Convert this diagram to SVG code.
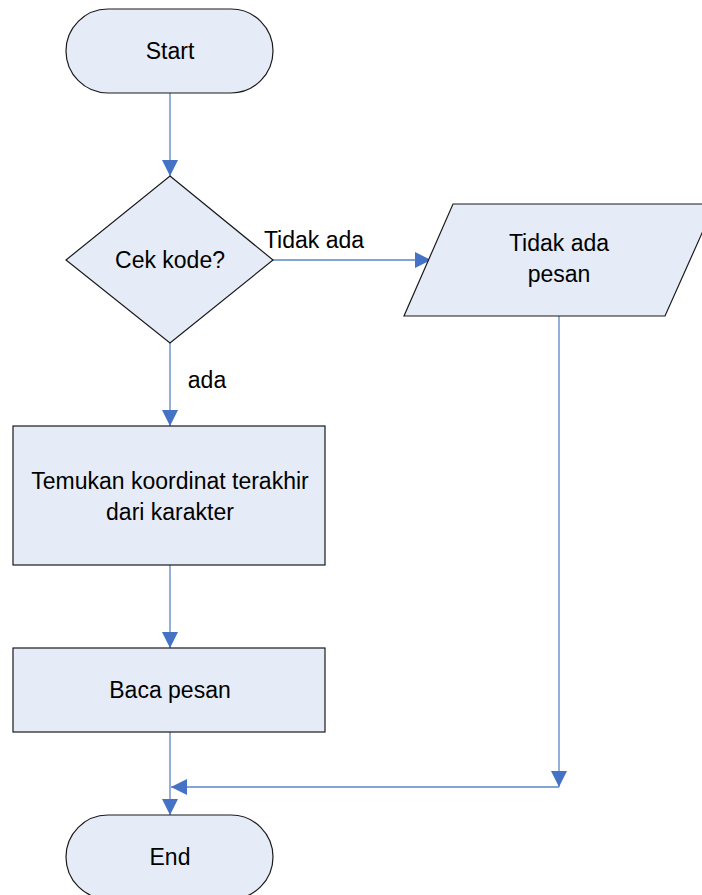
<svg xmlns="http://www.w3.org/2000/svg" width="702" height="895" viewBox="0 0 702 895">
<style>
.shape{fill:#E6ECF7;stroke:#1a1a1a;stroke-width:1.2}
.t{font-family:"Liberation Sans",Arial,sans-serif;font-size:23px;fill:#000;text-anchor:middle}
.c{fill:none;stroke:#5B86C5;stroke-width:1.3}
</style>
<defs>
<marker id="ah" markerUnits="userSpaceOnUse" markerWidth="16" markerHeight="16" refX="16" refY="8" orient="auto">
<path d="M0,0 L16,8 L0,16 Z" fill="#4472C4"/>
</marker>
</defs>
<g id="connectors">
<path class="c" d="M170,93 V176" marker-end="url(#ah)"/>
<path class="c" d="M273,260 H431" marker-end="url(#ah)"/>
<path class="c" d="M170,343 V426" marker-end="url(#ah)"/>
<path class="c" d="M170,565 V648" marker-end="url(#ah)"/>
<path class="c" d="M170,732 V815" marker-end="url(#ah)"/>
<path class="c" d="M559,316 V787" marker-end="url(#ah)"/>
<path class="c" d="M559,787 H171" marker-end="url(#ah)"/>
<text class="t" x="314" y="248">Tidak ada</text>
<text class="t" x="207" y="388">ada</text>
</g>
<g id="start">
<rect class="shape" x="66" y="9" width="207" height="84" rx="42" ry="42"/>
<text class="t" x="170" y="59">Start</text>
</g>
<g id="decision">
<path class="shape" d="M170,176 L273,260 L170,343 L66,260 Z"/>
<text class="t" x="170" y="268">Cek kode?</text>
</g>
<g id="output">
<path class="shape" d="M453,204 L715,204 L665,316 L404,316 Z"/>
<text class="t" x="559" y="251">Tidak ada</text>
<text class="t" x="559" y="282">pesan</text>
</g>
<g id="find">
<rect class="shape" x="13" y="426" width="312" height="139"/>
<text class="t" x="170" y="489">Temukan koordinat terakhir</text>
<text class="t" x="170" y="520">dari karakter</text>
</g>
<g id="read">
<rect class="shape" x="13" y="648" width="312" height="84"/>
<text class="t" x="170" y="698">Baca pesan</text>
</g>
<g id="end">
<rect class="shape" x="66" y="815" width="207" height="84" rx="42" ry="42"/>
<text class="t" x="170" y="865">End</text>
</g>
</svg>
